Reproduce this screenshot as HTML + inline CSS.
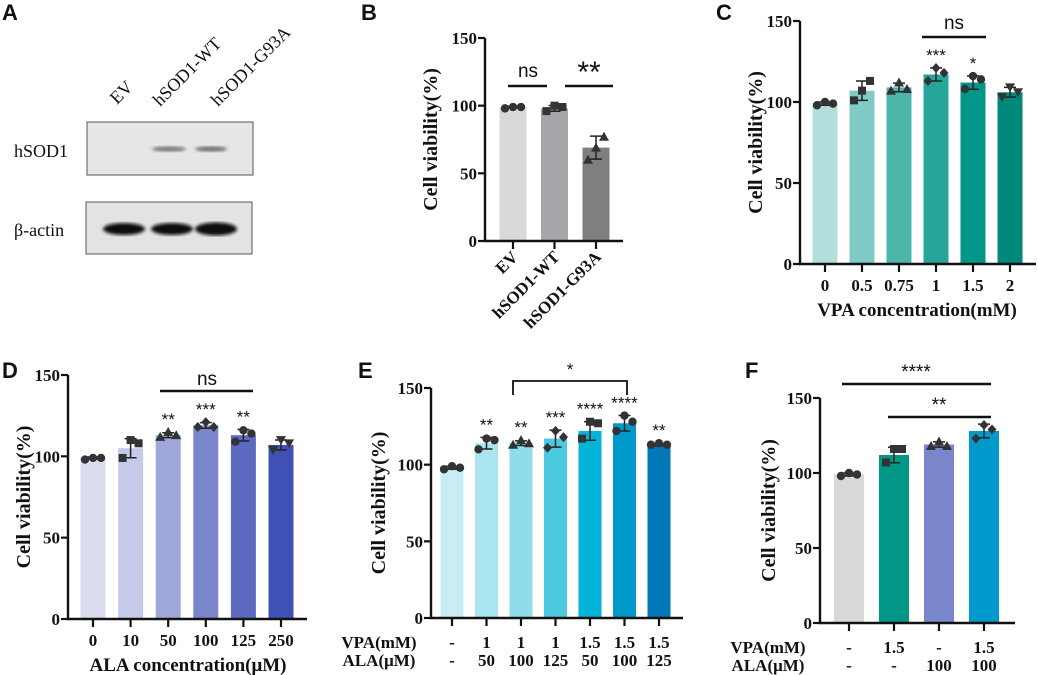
<!DOCTYPE html>
<html><head><meta charset="utf-8">
<style>
html,body{margin:0;padding:0;background:#fff;}
svg{display:block;}
.tk{font-family:"Liberation Serif",serif;font-weight:bold;font-size:17px;fill:#111;}
.yt{font-family:"Liberation Serif",serif;font-weight:bold;font-size:20px;fill:#111;}
.pl{font-family:"Liberation Sans",sans-serif;font-weight:bold;font-size:22px;fill:#111;}
.st{font-family:"Liberation Sans",sans-serif;font-size:17px;fill:#111;}
.wb{font-family:"Liberation Serif",serif;font-size:18px;fill:#111;}
</style></head>
<body>
<svg id="fig" width="1038" height="675" viewBox="0 0 1038 675" xmlns="http://www.w3.org/2000/svg">
<defs>
<filter id="blur1"><feGaussianBlur stdDeviation="1.6"/></filter>
</defs>
<g>
<text class="pl" x="2" y="20">A</text>
<text class="wb" transform="translate(117,105) rotate(-45)">EV</text>
<text class="wb" transform="translate(160,107) rotate(-45)">hSOD1-WT</text>
<text class="wb" transform="translate(218,107) rotate(-45)">hSOD1-G93A</text>
<text class="wb" x="14" y="157">hSOD1</text>
<text class="wb" x="14" y="236">β-actin</text>
<rect x="87" y="122" width="166" height="53" fill="#e6e6e6" stroke="#555" stroke-width="1"/>
<ellipse cx="169" cy="149" rx="17" ry="2.6" fill="#777" filter="url(#blur1)"/>
<ellipse cx="211" cy="149" rx="16" ry="2.6" fill="#6f6f6f" filter="url(#blur1)"/>
<rect x="86" y="202" width="166" height="52" fill="#e3e3e3" stroke="#555" stroke-width="1"/>
<ellipse cx="124" cy="229" rx="21" ry="6" fill="#111" filter="url(#blur1)"/>
<ellipse cx="172" cy="229" rx="21" ry="6" fill="#111" filter="url(#blur1)"/>
<ellipse cx="216" cy="229" rx="21" ry="6.5" fill="#0c0c0c" filter="url(#blur1)"/>
</g>
</svg>
<script>
// ---- Panel B data ----
const bCats = ["EV","hSOD1-WT","hSOD1-G93A"];
const bMeans = [99,98,69];
const bPts = [[98,99,99],[96,100,99],[60,69,77]];
const bStars = ["","",""];
// ---- Panel C data ----
const cCats = ["0","0.5","0.75","1","1.5","2"];
const cMeans = [99,107,109,117,112,106];
const cPts = [[98,100,99],[101,107,113],[107,112,108],[113,121,118],[108,116,114],[103,109,106]];
const cStars = ["","","","***","*",""];
// ---- Panel D data ----
const dCats = ["0","10","50","100","125","250"];
const dMeans = [99,105,113,119,113,107];
const dPts = [[98,99,99],[99,110,108],[112,115,113],[118,121,118],[109,116,114],[104,110,108]];
const dStars = ["","","**","***","**",""];
// ---- Panel E data ----
const eVPA = ["-","1","1","1","1.5","1.5","1.5"];
const eALA = ["-","50","100","125","50","100","125"];
const eMeans = [98,114,114,117,122,127,113];
const ePts = [[97,99,98],[110,117,116],[113,116,114],[111,122,118],[117,128,127],[122,132,128],[113,114,113]];
const eStars = ["","**","**","***","****","****","**"];
// ---- Panel F data ----
const fVPA = ["-","1.5","-","1.5"];
const fALA = ["-","-","100","100"];
const fMeans = [99,112,119,128];
const fPts = [[98,100,99],[107,116,116],[118,121,118],[123,132,129]];
const fStars = ["","","",""];
const yTicks = [0,50,100,150];

const NS="http://www.w3.org/2000/svg";
const svg=document.getElementById('fig');
function mk(tag,attrs,parent){const e=document.createElementNS(NS,tag);for(const k in attrs)e.setAttribute(k,attrs[k]);(parent||svg).appendChild(e);return e;}

function marker(shape,x,y,g){
  let e;
  if(shape==='c'){e=mk('circle',{cx:x,cy:y,r:4.2,fill:'#333'},g);}
  else if(shape==='s'){e=mk('rect',{x:x-4,y:y-4,width:8,height:8,fill:'#333'},g);}
  else if(shape==='t'){e=mk('polygon',{points:`${x},${y-5} ${x-5},${y+4} ${x+5},${y+4}`,fill:'#333'},g);}
  else if(shape==='v'){e=mk('polygon',{points:`${x},${y+5} ${x-5},${y-4} ${x+5},${y-4}`,fill:'#333'},g);}
  else {e=mk('polygon',{points:`${x},${y-5} ${x+4.5},${y} ${x},${y+5} ${x-4.5},${y}`,fill:'#333'},g);}
  
  
}

function chart(p){
  const g=mk('g',{});
  
  
  const y=v=>p.y0-(v/150)*(p.y0-p.y150);
  const x=i=>p.ax+p.first+i*p.step;
  p.means.forEach((m,i)=>{
    const r=mk('rect',{x:x(i)-p.bw/2,y:y(m),width:p.bw,height:y(0)-y(m),fill:p.colors[i]},g);
    
    
  });
  p.pts.forEach((pts,i)=>{
    const m=p.means[i];
    const mean=pts.reduce((a,b)=>a+b,0)/pts.length;
    const sd=Math.sqrt(pts.reduce((a,b)=>a+(b-mean)**2,0)/(pts.length-1));
    const cx=x(i);
    const eb=mk('path',{d:`M${cx},${y(m+sd)}V${y(m-sd)}M${cx-6},${y(m+sd)}H${cx+6}M${cx-6},${y(m-sd)}H${cx+6}`,stroke:'#222','stroke-width':1.5,fill:'none'},g);
    
    
    const offs=[-8,0,8];
    pts.forEach((v,j)=>marker(p.shapes[i],cx+offs[j],y(v),g));
    if(p.stars[i]){
      const t=mk('text',{x:cx,y:y(Math.max(m+sd,Math.max(...pts)))-7,'text-anchor':'middle',class:'st'},g);
      t.textContent=p.stars[i];
      
      
    }
  });
  const ax=mk('path',{d:`M${p.ax},${p.y150}V${p.y0}H${p.xEnd}`,stroke:'#111','stroke-width':2.4,fill:'none'},g);
  
  
  yTicks.forEach(v=>{
    const tl=mk('line',{x1:p.ax-7,x2:p.ax,y1:y(v),y2:y(v),stroke:'#111','stroke-width':2.2},g);
    
    
    const tt=mk('text',{x:p.ax-8,y:y(v)+6,'text-anchor':'end',class:'tk'},g);
    tt.textContent=v;
    
    
  });
  p.means.forEach((m,i)=>{
    const tl=mk('line',{x1:x(i),x2:x(i),y1:p.y0,y2:p.y0+8,stroke:'#111','stroke-width':2.2},g);
    
    
  });
  const yt=mk('text',{transform:`translate(${p.ytx},${(p.y0+p.y150)/2}) rotate(-90)`,'text-anchor':'middle',class:'yt'},g);
  yt.textContent='Cell viability(%)';
  
  
  if(p.cats){
    p.cats.forEach((c,i)=>{
      let t;
      if(p.rot){t=mk('text',{transform:`translate(${x(i)+6},${p.y0+17}) rotate(-45)`,'text-anchor':'end',class:'tk'},g);}
      else t=mk('text',{x:x(i),y:p.y0+27,'text-anchor':'middle',class:'tk'},g);
      t.textContent=c;
      
      
    });
  }
  if(p.xtitle){
    const t=mk('text',{x:p.xtx,y:p.y0+52,'text-anchor':'middle',class:'tk',style:'font-size:19px'},g);
    t.textContent=p.xtitle;
    
    
  }
  if(p.vpa){
    [['VPA(mM)',p.vpa,p.y0+30],['ALA(μM)',p.ala,p.y0+48]].forEach(([lab,arr,yy])=>{
      const t=mk('text',{x:p.ax-52,y:yy,'text-anchor':'middle',class:'tk'},g);
      t.textContent=lab;
      
      
      arr.forEach((c,i)=>{
        const u=mk('text',{x:x(i),y:yy,'text-anchor':'middle',class:'tk'},g);
        u.textContent=c;
        
        
      });
    });
  }
  const pl=mk('text',{x:p.lx,y:p.ly,class:'pl'},g);
  pl.textContent=p.letter;
  
  
  return {g,x,y};
}
function sigLine(g,x1,x2,yy,label,tx,ty,drop,size){
  const d=drop?`M${x1},${yy+drop}V${yy}H${x2}V${yy+drop}`:`M${x1},${yy}H${x2}`;
  const l=mk('path',{d:d,stroke:'#111','stroke-width':drop?1.8:2.5,fill:'none'},g);
  
  
  const t=mk('text',{x:tx,y:ty,'text-anchor':'middle',class:'st',style:'font-size:'+size+'px'},g);
  t.textContent=label;
  
  
}

const B=chart({name:'panel-b-chart',letter:'B',lx:361,ly:20,ax:485,xEnd:623,y0:241,y150:38,first:28,step:41.5,bw:27,means:bMeans,pts:bPts,stars:bStars,shapes:['c','s','t'],colors:['#d9d9d9','#a5a5aa','#7f7f7f'],ytx:437,cats:bCats,rot:true});
sigLine(B.g,508,547,86,'ns',528,77,0,19);
sigLine(B.g,565,613,86,'**',589,82,0,30);

const C=chart({name:'panel-c-chart',letter:'C',lx:716,ly:20,ax:800,xEnd:1036,y0:264,y150:21,first:25,step:37,bw:25,means:cMeans,pts:cPts,stars:cStars,shapes:['c','s','t','d','c','v'],colors:['#b2dfdb','#80cbc4','#4db6ac','#26a69a','#009688','#00897b'],ytx:762,cats:cCats,xtitle:'VPA concentration(mM)',xtx:917});
sigLine(C.g,922,986,37,'ns',954,29,0,19);

const D=chart({name:'panel-d-chart',letter:'D',lx:2,ly:378,ax:68,xEnd:307,y0:619,y150:375,first:25,step:37.6,bw:25,means:dMeans,pts:dPts,stars:dStars,shapes:['c','s','t','d','c','v'],colors:['#dcdcf0','#c5cae9','#9fa8da','#7986cb','#5c6bc0','#3f51b5'],ytx:30,cats:dCats,xtitle:'ALA concentration(μM)',xtx:188});
sigLine(D.g,160,253,391,'ns',207,385,0,19);

const E=chart({name:'panel-e-chart',letter:'E',lx:358,ly:378,ax:431,xEnd:683,y0:618,y150:388,first:21,step:34.5,bw:23,means:eMeans,pts:ePts,stars:eStars,shapes:['c','c','t','d','s','c','c'],colors:['#c9edf5','#a9e5f1','#8fdceb','#4dc9e2','#00b4d8','#0099cc','#0077b6'],ytx:385,vpa:eVPA,ala:eALA});
sigLine(E.g,513,627,381,'*',570,375,14,17);

const F=chart({name:'panel-f-chart',letter:'F',lx:745,ly:378,ax:820,xEnd:1015,y0:623,y150:398,first:29,step:45,bw:30,means:fMeans,pts:fPts,stars:fStars,shapes:['c','s','t','d'],colors:['#d9d9d9','#009688','#7986cb','#0099cc'],ytx:775,vpa:fVPA,ala:fALA});
sigLine(F.g,842,991,384,'****',916,378,0,19);
sigLine(F.g,888,991,417,'**',939,411,0,19);
</script>
</body></html>
